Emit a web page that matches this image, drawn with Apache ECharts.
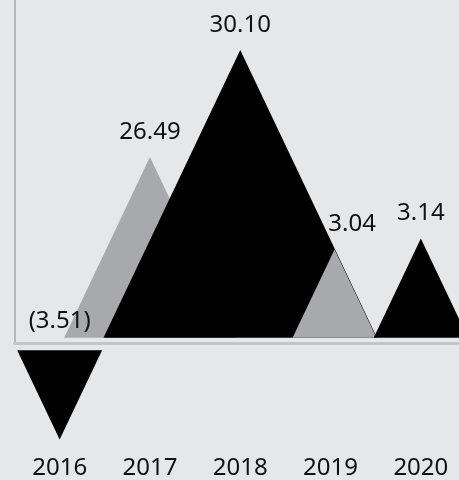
<!DOCTYPE html>
<html>
<head>
<meta charset="utf-8">
<style>
html,body{margin:0;padding:0;background:#e6e7e9;overflow:hidden;}
#chart{width:466px;height:480px;}
</style>
<script src="https://cdn.jsdelivr.net/npm/echarts@6/dist/echarts.min.js"></script>
</head>
<body>
<div id="chart"></div>
<script>
// Data
const years = ['2016', '2017', '2018', '2019', '2020'];
const values = [-3.51, 26.49, 30.10, 3.04, 3.14];          // printed labels
const heights = [-9.0, 18.2, 29.0, 8.9, 10.0];              // drawn triangle heights (axis units)

const FONT = '"Noto Sans", sans-serif';
const COLORS = ['#000000', '#a8a9ac'];
const markDx = [0, 0, 0, 4, 0];
const labelDx = [0, 0, 0, 21.5, 0];

function fmt(v) {
  return v < 0 ? '(' + Math.abs(v).toFixed(2) + ')' : v.toFixed(2);
}

const chart = echarts.init(document.getElementById('chart'));
chart.setOption({
  backgroundColor: '#e6e7e9',
  animation: false,
  grid: { left: 14.5, right: 0, top: -2, bottom: 136.5, containLabel: false },
  xAxis: {
    type: 'category',
    data: years,
    axisLine: { show: true, lineStyle: { color: '#c3c4c6', width: 3 } },
    axisTick: { show: false },
    axisLabel: { margin: 113, fontSize: 24, color: '#111111', fontFamily: FONT }
  },
  yAxis: {
    type: 'value',
    min: 0,
    max: 34.55,
    axisLine: { show: true, lineStyle: { color: '#b5b6b8', width: 2 } },
    axisTick: { show: false },
    axisLabel: { show: false },
    splitLine: { show: false }
  },
  series: [{
    type: 'custom',
    clip: false,
    data: heights.map((h, i) => [i, h, values[i]]),
    encode: { x: 0, y: 1 },
    renderItem: function (params, api) {
      const i = api.value(0);
      const h = api.value(1);
      const v = api.value(2);
      const p0 = api.coord([i, 0]);
      const p1 = api.coord([i, h]);
      const cx = p0[0] + markDx[i];
      let baseY, apexY, labelY;
      if (h >= 0) {
        baseY = p0[1] - 5.2;
        apexY = p1[1] - 5.2;
        labelY = apexY - 25;
      } else {
        baseY = p0[1] + 7.2;
        apexY = p1[1] + 7.2;
        labelY = p0[1] - 21.5;
      }
      const hw = Math.abs(baseY - apexY) * 0.475;
      return {
        type: 'group',
        children: [{
          type: 'polygon',
          shape: { points: [[cx - hw, baseY], [cx + hw, baseY], [cx, apexY]] },
          style: { fill: COLORS[i % 2] }
        }, {
          type: 'text',
          z2: 100,
          style: {
            text: fmt(v),
            x: p0[0] + labelDx[i],
            y: labelY,
            align: 'center',
            verticalAlign: 'middle',
            fontSize: 24,
            fontFamily: FONT,
            fill: '#111111'
          }
        }]
      };
    }
  }]
});
</script>
</body>
</html>
